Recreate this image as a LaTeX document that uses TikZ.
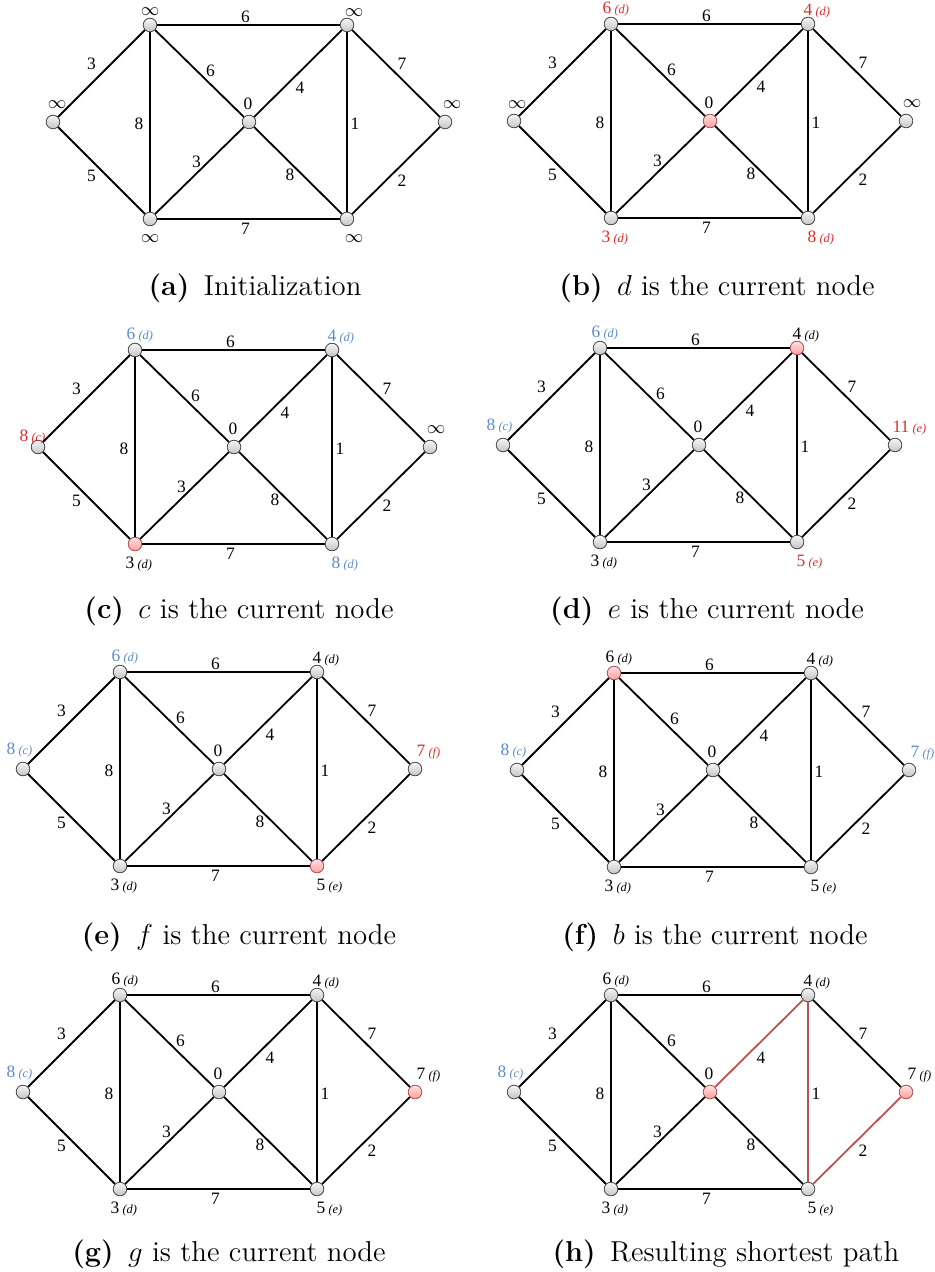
\documentclass[tikz,border=0pt]{standalone}
\usepackage{fontspec}
\usepackage{xcolor}
\usepackage{tikz}
\newfontfamily\graphfont{Liberation Serif}
\definecolor{vred}{HTML}{E32B2B}
\definecolor{vblue}{HTML}{5A8BCB}
\definecolor{pathred}{HTML}{C0504D}

% value of a vertex: number, then the predecessor in small italics
\newcommand\vl[3][black]{\textcolor{#1}{#2\rlap{\kern1.6pt\fontsize{6.2}{7}\selectfont\itshape(#3)}}}

\tikzset{
  vtx/.style={circle, draw=gray!55!black, line width=0.4pt, inner sep=0pt,
              minimum size=6.8pt, top color=gray!8, bottom color=gray!45},
  cur/.style={draw=red!40!gray, top color=red!12, bottom color=red!38},
  wire/.style={line width=0.9pt},
  hot/.style={draw=pathred},
  wt/.style={inner sep=0pt, font=\graphfont\fontsize{8.7}{10}\selectfont},
  val/.style={inner sep=0pt, font=\graphfont\fontsize{8.7}{10}\selectfont},
  captext/.style={anchor=base, inner sep=0pt, font=\fontsize{14.4}{17}\selectfont},
  cur-a/.style={}, cur-b/.style={}, cur-c/.style={}, cur-d/.style={},
  cur-e/.style={}, cur-f/.style={}, cur-g/.style={},
  off-a/.style={shift={(-12,-19)}}, off-b/.style={shift={(-4,-15)}},
  off-c/.style={shift={(-5,20)}},   off-d/.style={shift={(-1,-18)}},
  off-e/.style={shift={(0,-13)}},   off-f/.style={shift={(4,20)}},
  off-g/.style={shift={(6,-17)}},
  sp-de/.style={}, sp-ef/.style={}, sp-fg/.style={}
}

% the seven vertices and their values
\newcommand\graphnodes[7]{%
  \node[vtx, cur-a] (a) at (0,0) {};
  \node[vtx, cur-b] (b) at (97,-97) {};
  \node[vtx, cur-c] (c) at (97,97) {};
  \node[vtx, cur-d] (d) at (196,0) {};
  \node[vtx, cur-e] (e) at (294,-97) {};
  \node[vtx, cur-f] (f) at (294,97) {};
  \node[vtx, cur-g] (g) at (392,0) {};
  \node[val, off-a] (la) at (a) {#1};
  \node[val, off-b] (lb) at (b) {#2};
  \node[val, off-c] (lc) at (c) {#3};
  \node[val, off-d] (ld) at (d) {#4};
  \node[val, off-e] (le) at (e) {#5};
  \node[val, off-f] (lf) at (f) {#6};
  \node[val, off-g] (lg) at (g) {#7};}

% the twelve weighted edges
\newcommand\graphedges{%
  \draw[wire] (a) -- node[wt, shift={(-10,-10)}] {3} (b);
  \draw[wire] (a) -- node[wt, shift={(-10,5)}] {5} (c);
  \draw[wire] (b) -- node[wt, shift={(-11,2)}] {8} (c);
  \draw[wire] (b) -- node[wt, shift={(11,-3)}] {6} (d);
  \draw[wire] (b) -- node[wt, shift={(-3,-8)}] {6} (e);
  \draw[wire] (c) -- node[wt, shift={(-3,-9)}] {3} (d);
  \draw[wire] (c) -- node[wt, shift={(-3,10)}] {7} (f);
  \draw[wire, sp-de] (d) -- node[wt, shift={(2,14)}] {4} (e);
  \draw[wire] (d) -- node[wt, shift={(-8,4)}] {8} (f);
  \draw[wire, sp-ef] (e) -- node[wt, shift={(8,2)}] {1} (f);
  \draw[wire] (e) -- node[wt, shift={(6,-10)}] {7} (g);
  \draw[wire, sp-fg] (f) -- node[wt, shift={(6,10)}] {2} (g);}

\begin{document}
\begin{tikzpicture}[x=0.5pt, y=-0.5pt]
  \useasboundingbox (0,0) rectangle (934,1272);

  % ---- (a) initialization ----
  \begin{scope}[shift={(53,122)}, name prefix=pa-,
      off-a/.style={shift={(4,-17)}}, off-b/.style={shift={(0,-13)}},
      off-c/.style={shift={(0,20)}}, off-e/.style={shift={(7,-12)}},
      off-f/.style={shift={(7,20)}}, off-g/.style={shift={(7,-17)}}]
    \graphnodes{$\infty$}{$\infty$}{$\infty$}{0}{$\infty$}{$\infty$}{$\infty$}
    \graphedges
  \end{scope}
  \node[captext] (cap-a) at (255,296) {\textbf{(a)}\enspace Initialization};

  % ---- (b) d is current ----
  \begin{scope}[shift={(514,121)}, name prefix=pb-,
      cur-d/.style={cur}, off-a/.style={shift={(3,-16)}}]
    \graphnodes{$\infty$}{\vl[vred]{6}{d}}{\vl[vred]{3}{d}}{0}%
               {\vl[vred]{4}{d}}{\vl[vred]{8}{d}}{$\infty$}
    \graphedges
  \end{scope}
  \node[captext] (cap-b) at (717,296) {\textbf{(b)}\enspace $d$ is the current node};

  % ---- (c) c is current ----
  \begin{scope}[shift={(38,447)}, name prefix=pc-,
      cur-c/.style={cur}, off-a/.style={shift={(-14,-10)}}]
    \graphnodes{\vl[vred]{8}{c}}{\vl[vblue]{6}{d}}{\vl{3}{d}}{0}%
               {\vl[vblue]{4}{d}}{\vl[vblue]{8}{d}}{$\infty$}
    \graphedges
  \end{scope}
  \node[captext] (cap-c) at (239,618) {\textbf{(c)}\enspace $c$ is the current node};

  % ---- (d) e is current ----
  \begin{scope}[shift={(503,445)}, name prefix=pd-, cur-e/.style={cur}]
    \graphnodes{\vl[vblue]{8}{c}}{\vl[vblue]{6}{d}}{\vl{3}{d}}{0}%
               {\vl{4}{d}}{\vl[vred]{5}{e}}{\vl[vred]{11}{e}}
    \graphedges
  \end{scope}
  \node[captext] (cap-d) at (707,618) {\textbf{(d)}\enspace $e$ is the current node};

  % ---- (e) f is current ----
  \begin{scope}[shift={(23,769)}, name prefix=pe-, cur-f/.style={cur}]
    \graphnodes{\vl[vblue]{8}{c}}{\vl[vblue]{6}{d}}{\vl{3}{d}}{0}%
               {\vl{4}{d}}{\vl{5}{e}}{\vl[vred]{7}{f}}
    \graphedges
  \end{scope}
  \node[captext] (cap-e) at (239,944) {\textbf{(e)}\enspace $f$ is the current node};

  % ---- (f) b is current ----
  \begin{scope}[shift={(517,770)}, name prefix=pf-, cur-b/.style={cur}]
    \graphnodes{\vl[vblue]{8}{c}}{\vl{6}{d}}{\vl{3}{d}}{0}%
               {\vl{4}{d}}{\vl{5}{e}}{\vl[vblue]{7}{f}}
    \graphedges
  \end{scope}
  \node[captext] (cap-f) at (715,944) {\textbf{(f)}\enspace $b$ is the current node};

  % ---- (g) g is current ----
  \begin{scope}[shift={(23,1092)}, name prefix=pg-, cur-g/.style={cur}]
    \graphnodes{\vl[vblue]{8}{c}}{\vl{6}{d}}{\vl{3}{d}}{0}%
               {\vl{4}{d}}{\vl{5}{e}}{\vl{7}{f}}
    \graphedges
  \end{scope}
  \node[captext] (cap-g) at (229,1261) {\textbf{(g)}\enspace $g$ is the current node};

  % ---- (h) shortest path d-e-f-g ----
  \begin{scope}[shift={(514,1092)}, name prefix=ph-,
      cur-d/.style={cur}, cur-g/.style={cur},
      sp-de/.style={hot}, sp-ef/.style={hot}, sp-fg/.style={hot}]
    \graphnodes{\vl[vblue]{8}{c}}{\vl{6}{d}}{\vl{3}{d}}{0}%
               {\vl{4}{d}}{\vl{5}{e}}{\vl{7}{f}}
    \graphedges
  \end{scope}
  \node[captext] (cap-h) at (726,1261) {\textbf{(h)}\enspace Resulting shortest path};
\end{tikzpicture}
\end{document}
